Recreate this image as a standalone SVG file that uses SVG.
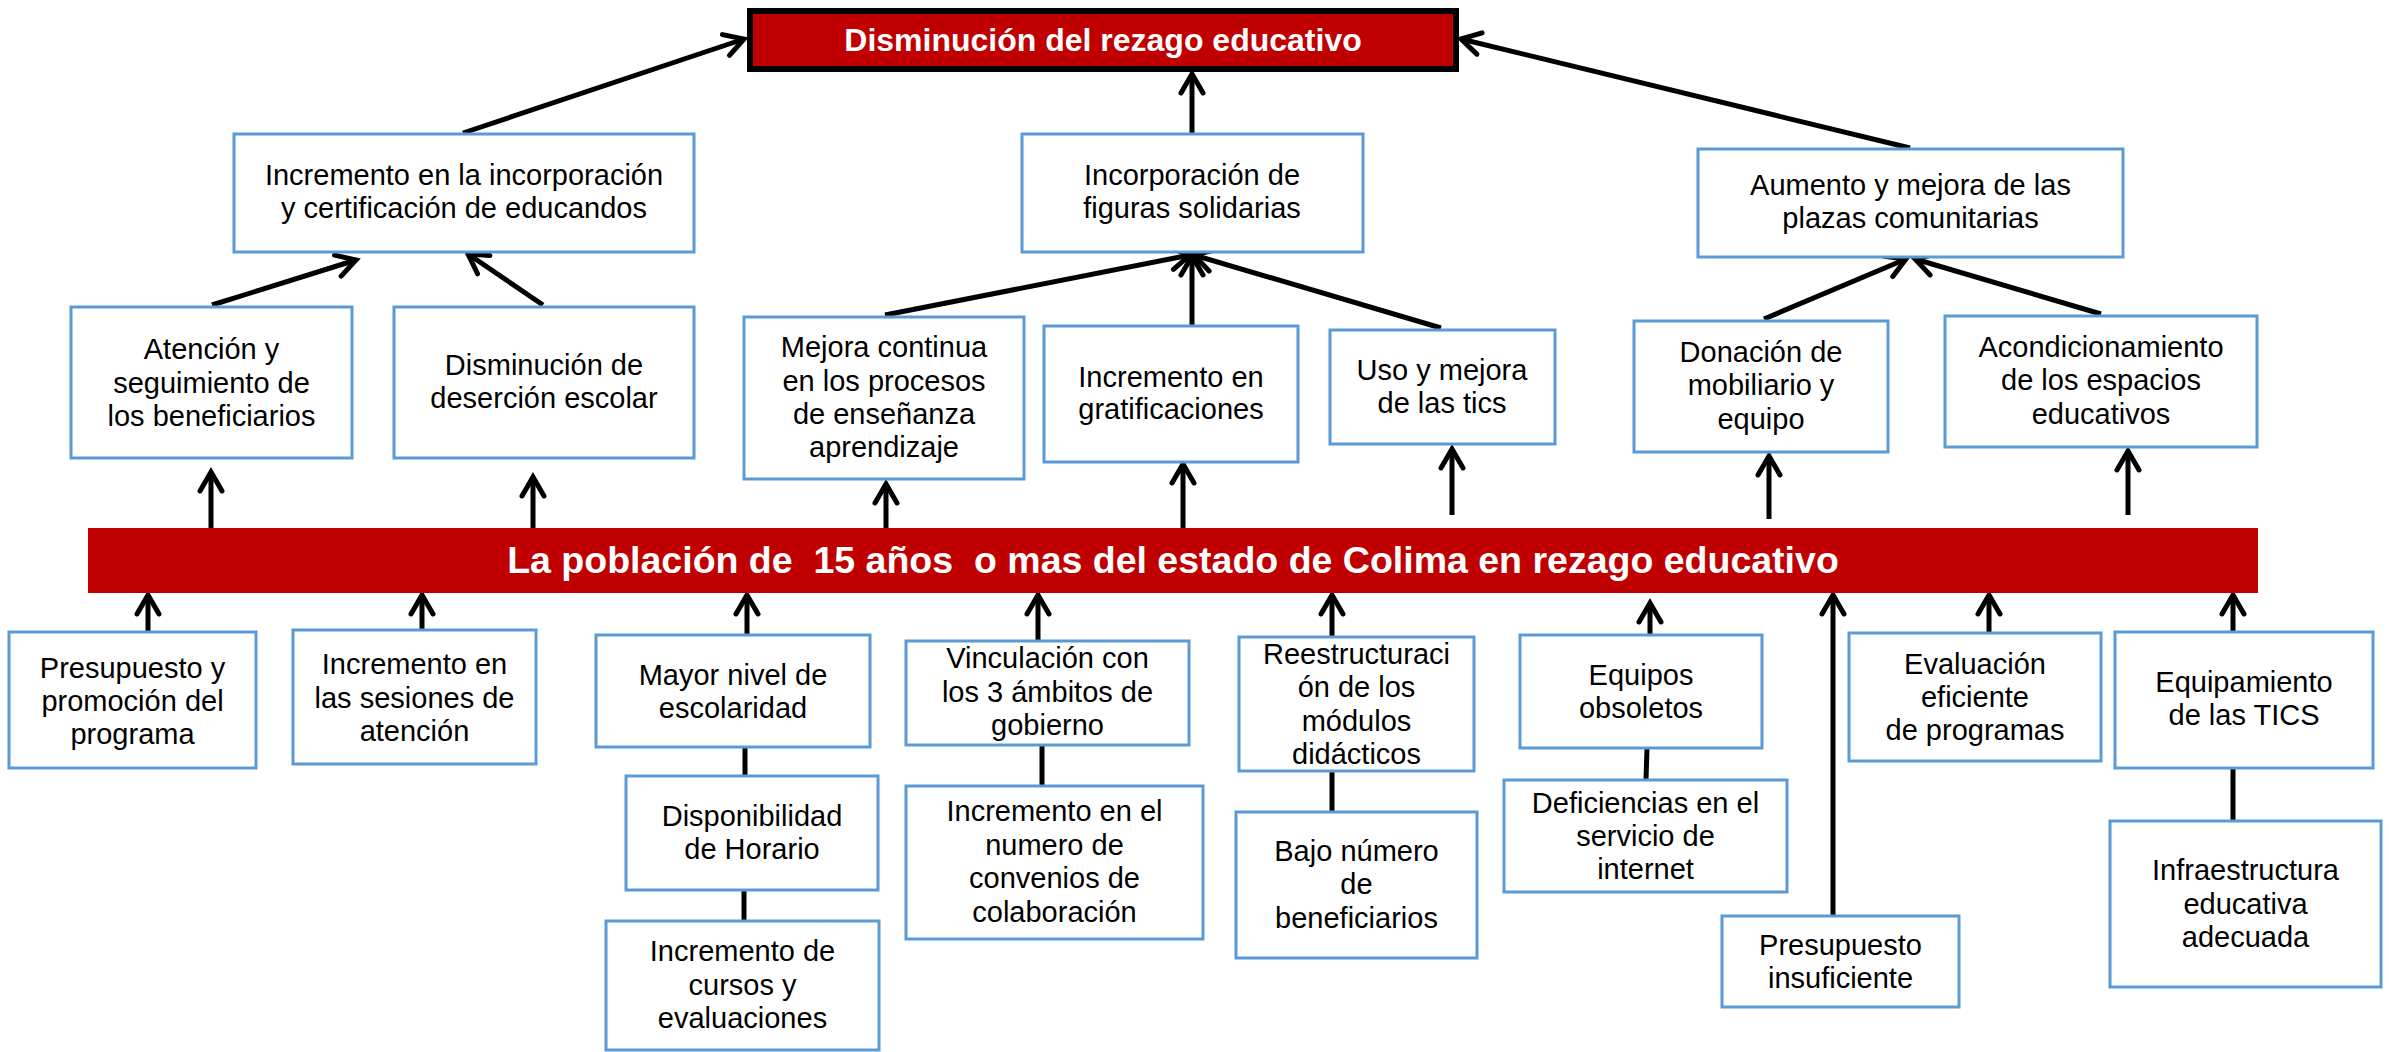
<svg xmlns="http://www.w3.org/2000/svg" width="2389" height="1052" viewBox="0 0 2389 1052">
<defs>
<style>
.box{fill:#fff;stroke:#5B9BD5;stroke-width:3}
.t{font-family:"Liberation Sans",Arial,sans-serif;font-size:29px;fill:#000;text-anchor:middle}
.tb{font-family:"Liberation Sans",Arial,sans-serif;font-weight:bold;fill:#fff;text-anchor:middle;white-space:pre}
.c{fill:none;stroke:#000;stroke-width:5}
.a{marker-end:url(#ah)}
</style>
<marker id="ah" markerUnits="userSpaceOnUse" viewBox="-25 -15 32 30" markerWidth="32" markerHeight="30" refX="0" refY="0" orient="auto">
<path d="M-19,-11 L0,0 L-19,11" fill="none" stroke="#000" stroke-width="5" stroke-linecap="round"/>
</marker>
</defs>
<rect width="2389" height="1052" fill="#fff"/>

<g id="connectors">
<path class="c a" d="M463,133 L744,39"/>
<path class="c a" d="M1192,133 L1192,74"/>
<path class="c a" d="M1910,148 L1461,39"/>
<path class="c a" d="M212,305 L356,260"/>
<path class="c a" d="M543,305 L468,254"/>
<path class="c a" d="M885,315 L1190,255"/>
<path class="c a" d="M1192,325 L1192,256"/>
<path class="c a" d="M1441,328 L1194,255"/>
<path class="c a" d="M1764,319 L1906,259"/>
<path class="c a" d="M2101,314 L1915,259"/>
<path class="c a" d="M211,528 L211,472"/>
<path class="c a" d="M533,528 L533,477"/>
<path class="c a" d="M886,528 L886,484"/>
<path class="c a" d="M1183,528 L1183,464"/>
<path class="c a" d="M1452,515 L1452,449"/>
<path class="c a" d="M1769,519 L1769,456"/>
<path class="c a" d="M2128,515 L2128,451"/>
<path class="c a" d="M148,632 L148,595"/>
<path class="c a" d="M422,630 L422,595"/>
<path class="c a" d="M747,635 L747,595"/>
<path class="c a" d="M1038,641 L1038,595"/>
<path class="c a" d="M1332,637 L1332,595"/>
<path class="c a" d="M1650,635 L1650,603"/>
<path class="c a" d="M1833,916 L1833,595"/>
<path class="c a" d="M1989,633 L1989,595"/>
<path class="c a" d="M2233,632 L2233,595"/>
<path class="c" d="M745,747 L745,776"/>
<path class="c" d="M744,890 L744,921"/>
<path class="c" d="M1042,745 L1042,786"/>
<path class="c" d="M1332,771 L1332,812"/>
<path class="c" d="M1647,748 L1646,780"/>
<path class="c" d="M2233,768 L2233,821"/>
</g>

<g id="n-top">
<rect x="750" y="11" width="706" height="58" fill="#C00000" stroke="#000" stroke-width="6"/>
<text class="tb" x="1103" y="51" font-size="32">Disminución del rezago educativo</text>
</g>

<g id="n-incremento-incorporacion">
<rect class="box" x="234" y="134" width="460" height="118"/>
<text class="t" x="464" y="185">Incremento en la incorporación</text>
<text class="t" x="464" y="218">y certificación de educandos</text>
</g>

<g id="n-atencion">
<rect class="box" x="71" y="307" width="281" height="151"/>
<text class="t" x="211.5" y="359">Atención y</text>
<text class="t" x="211.5" y="393">seguimiento de</text>
<text class="t" x="211.5" y="426">los beneficiarios</text>
</g>

<g id="n-desercion">
<rect class="box" x="394" y="307" width="300" height="151"/>
<text class="t" x="544" y="375">Disminución de</text>
<text class="t" x="544" y="408">deserción escolar</text>
</g>

<g id="n-figuras">
<rect class="box" x="1022" y="134" width="341" height="118"/>
<text class="t" x="1192" y="185">Incorporación de</text>
<text class="t" x="1192" y="218">figuras solidarias</text>
</g>

<g id="n-mejora">
<rect class="box" x="744" y="317" width="280" height="162"/>
<text class="t" x="884" y="357">Mejora continua</text>
<text class="t" x="884" y="391">en los procesos</text>
<text class="t" x="884" y="424">de enseñanza</text>
<text class="t" x="884" y="457">aprendizaje</text>
</g>

<g id="n-gratificaciones">
<rect class="box" x="1044" y="326" width="254" height="136"/>
<text class="t" x="1171" y="387">Incremento en</text>
<text class="t" x="1171" y="419">gratificaciones</text>
</g>

<g id="n-tics">
<rect class="box" x="1330" y="330" width="225" height="114"/>
<text class="t" x="1442" y="380">Uso y mejora</text>
<text class="t" x="1442" y="413">de las tics</text>
</g>

<g id="n-plazas">
<rect class="box" x="1698" y="149" width="425" height="108"/>
<text class="t" x="1910.5" y="195">Aumento y mejora de las</text>
<text class="t" x="1910.5" y="228">plazas comunitarias</text>
</g>

<g id="n-donacion">
<rect class="box" x="1634" y="321" width="254" height="131"/>
<text class="t" x="1761" y="362">Donación de</text>
<text class="t" x="1761" y="395">mobiliario y</text>
<text class="t" x="1761" y="429">equipo</text>
</g>

<g id="n-acondicionamiento">
<rect class="box" x="1945" y="316" width="312" height="131"/>
<text class="t" x="2101" y="357">Acondicionamiento</text>
<text class="t" x="2101" y="390">de los espacios</text>
<text class="t" x="2101" y="424">educativos</text>
</g>

<g id="n-banner">
<rect x="88" y="528" width="2170" height="65" fill="#C00000"/>
<text class="tb" x="1173" y="573" font-size="37.5" xml:space="preserve">La población de  15 años  o mas del estado de Colima en rezago educativo</text>
</g>

<g id="n-presupuesto-promocion">
<rect class="box" x="9" y="632" width="247" height="136"/>
<text class="t" x="132.5" y="678">Presupuesto y</text>
<text class="t" x="132.5" y="711">promoción del</text>
<text class="t" x="132.5" y="744">programa</text>
</g>

<g id="n-sesiones">
<rect class="box" x="293" y="630" width="243" height="134"/>
<text class="t" x="414.5" y="674">Incremento en</text>
<text class="t" x="414.5" y="708">las sesiones de</text>
<text class="t" x="414.5" y="741">atención</text>
</g>

<g id="n-escolaridad">
<rect class="box" x="596" y="635" width="274" height="112"/>
<text class="t" x="733" y="685">Mayor nivel de</text>
<text class="t" x="733" y="718">escolaridad</text>
</g>

<g id="n-horario">
<rect class="box" x="626" y="776" width="252" height="114"/>
<text class="t" x="752" y="826">Disponibilidad</text>
<text class="t" x="752" y="859">de Horario</text>
</g>

<g id="n-cursos">
<rect class="box" x="606" y="921" width="273" height="129"/>
<text class="t" x="742.5" y="961">Incremento de</text>
<text class="t" x="742.5" y="995">cursos y</text>
<text class="t" x="742.5" y="1028">evaluaciones</text>
</g>

<g id="n-vinculacion">
<rect class="box" x="906" y="641" width="283" height="104"/>
<text class="t" x="1047.5" y="668">Vinculación con</text>
<text class="t" x="1047.5" y="702">los 3 ámbitos de</text>
<text class="t" x="1047.5" y="735">gobierno</text>
</g>

<g id="n-convenios">
<rect class="box" x="906" y="786" width="297" height="153"/>
<text class="t" x="1054.5" y="821">Incremento en el</text>
<text class="t" x="1054.5" y="855">numero de</text>
<text class="t" x="1054.5" y="888">convenios de</text>
<text class="t" x="1054.5" y="922">colaboración</text>
</g>

<g id="n-reestructuracion">
<rect class="box" x="1239" y="637" width="235" height="134"/>
<text class="t" x="1356.5" y="664">Reestructuraci</text>
<text class="t" x="1356.5" y="697">ón de los</text>
<text class="t" x="1356.5" y="731">módulos</text>
<text class="t" x="1356.5" y="764">didácticos</text>
</g>

<g id="n-bajo-numero">
<rect class="box" x="1236" y="812" width="241" height="146"/>
<text class="t" x="1356.5" y="861">Bajo número</text>
<text class="t" x="1356.5" y="894">de</text>
<text class="t" x="1356.5" y="928">beneficiarios</text>
</g>

<g id="n-equipos">
<rect class="box" x="1520" y="635" width="242" height="113"/>
<text class="t" x="1641" y="685">Equipos</text>
<text class="t" x="1641" y="718">obsoletos</text>
</g>

<g id="n-internet">
<rect class="box" x="1504" y="780" width="283" height="112"/>
<text class="t" x="1645.5" y="813">Deficiencias en el</text>
<text class="t" x="1645.5" y="846">servicio de</text>
<text class="t" x="1645.5" y="879">internet</text>
</g>

<g id="n-presupuesto-insuficiente">
<rect class="box" x="1722" y="916" width="237" height="91"/>
<text class="t" x="1840.5" y="955">Presupuesto</text>
<text class="t" x="1840.5" y="988">insuficiente</text>
</g>

<g id="n-evaluacion">
<rect class="box" x="1849" y="633" width="252" height="128"/>
<text class="t" x="1975" y="674">Evaluación</text>
<text class="t" x="1975" y="707">eficiente</text>
<text class="t" x="1975" y="740">de programas</text>
</g>

<g id="n-equipamiento">
<rect class="box" x="2115" y="632" width="258" height="136"/>
<text class="t" x="2244" y="692">Equipamiento</text>
<text class="t" x="2244" y="725">de las TICS</text>
</g>

<g id="n-infraestructura">
<rect class="box" x="2110" y="821" width="271" height="166"/>
<text class="t" x="2245.5" y="880">Infraestructura</text>
<text class="t" x="2245.5" y="914">educativa</text>
<text class="t" x="2245.5" y="947">adecuada</text>
</g>
</svg>
